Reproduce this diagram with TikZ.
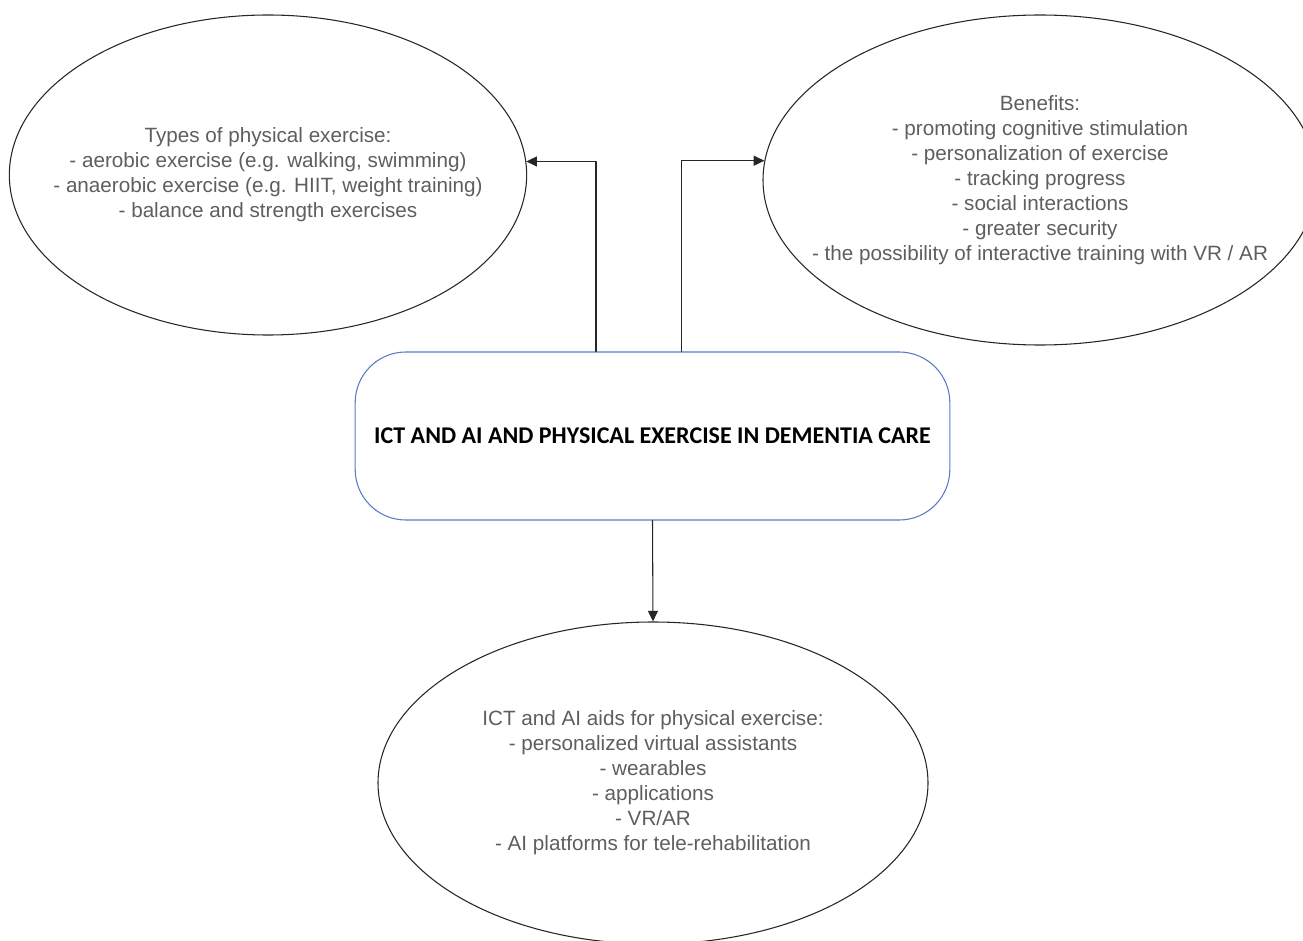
\documentclass[tikz,border=0pt]{standalone}
\usepackage{fontspec}
\setmainfont{Liberation Sans}
\newfontfamily\calibri{Carlito}
\usepackage{xcolor}
\usepackage{tikz}
\usetikzlibrary{arrows.meta,shapes.geometric}

\definecolor{testo}{HTML}{5E5E5E}
\definecolor{bordoblu}{HTML}{5B7BC4}

\begin{document}
\begin{tikzpicture}[
    x=0.75pt,
    y=-0.75pt,
    >={Triangle[length=8pt,width=7.5pt]},
    line cap=round,
    line join=round,
    bolla/.style={ellipse, draw=black!85, line width=0.8pt, inner ysep=0pt,
        inner xsep=-120pt, align=center, text=testo,
        font=\fontsize{15.5}{18.75}\selectfont},
    conn/.style={->, line width=0.8pt, black!85}
]

% Area
\useasboundingbox (0,0) rectangle (1303,941);
\clip (0,0) rectangle (1303,941);

% Nodo centrale
\node[draw=bordoblu, line width=0.8pt, rounded corners=38pt,
      minimum width=446pt, minimum height=126pt,
      font=\calibri\bfseries\fontsize{18}{21}\selectfont] (centro) at (652.5,436)
    {ICT AND AI AND PHYSICAL EXERCISE IN DEMENTIA CARE};

% Ellissi
\node[bolla, minimum width=388pt, minimum height=240pt] (tipi) at (268,175)
    {Types of physical exercise:\\
     - aerobic exercise (e.g. walking, swimming)\\
     - anaerobic exercise (e.g. HIIT, weight training)\\
     - balance and strength exercises};

\node[bolla, minimum width=415.5pt, minimum height=247.5pt] (benefici) at (1040,180)
    {Benefits:\\
     - promoting cognitive stimulation\\
     - personalization of exercise\\
     - tracking progress\\
     - social interactions\\
     - greater security\\
     - the possibility of interactive training with VR / AR};

\node[bolla, minimum width=412.5pt, minimum height=241.5pt] (ausili) at (653,783)
    {ICT and AI aids for physical exercise:\\
     - personalized virtual assistants\\
     - wearables\\
     - applications\\
     - VR/AR\\
     - AI platforms for tele-rehabilitation};

% Frecce
\draw[conn] ([xshift=-42.4pt]centro.north) |- (tipi.3);
\draw[conn] ([xshift=21.4pt]centro.north) |- (benefici.176.3);
\draw[conn] (centro.south) -- (ausili.north);

\end{tikzpicture}
\end{document}
